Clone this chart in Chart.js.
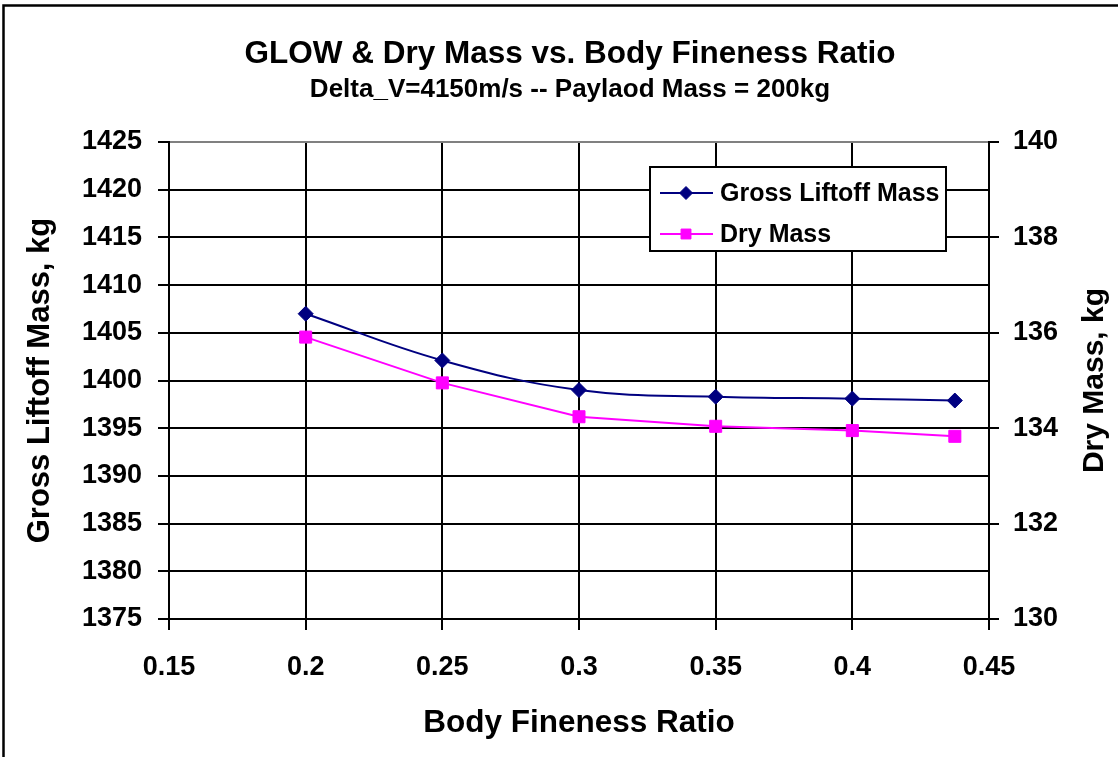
<!DOCTYPE html>
<html>
<head>
<meta charset="utf-8">
<title>GLOW &amp; Dry Mass vs. Body Fineness Ratio</title>
<script src="https://cdn.jsdelivr.net/npm/chart.js@4/dist/chart.umd.min.js"></script>
<style>
  html, body { margin: 0; padding: 0; background: #fff; }
  #wrap { position: relative; width: 1118px; height: 757px; }
</style>
</head>
<body>
<div id="wrap"><canvas id="chart"></canvas></div>
<script>
// Body fineness ratio of each design point
const fineness = [0.2, 0.25, 0.3, 0.35, 0.4, 0.4375];
// Gross liftoff mass (kg), left axis
const grossLiftoffMass = [1407.0, 1402.1, 1399.0, 1398.3, 1398.1, 1397.9];
// Dry mass (kg), right axis
const dryMass = [135.91, 134.95, 134.24, 134.04, 133.95, 133.83];

// Axis ticks
const xTickValues = [0.15, 0.2, 0.25, 0.3, 0.35, 0.4, 0.45];
const xTickLabels = ['0.15', '0.2', '0.25', '0.3', '0.35', '0.4', '0.45'];
const glowTickValues = [1375, 1380, 1385, 1390, 1395, 1400, 1405, 1410, 1415, 1420, 1425];
const dryTickValues = [130, 132, 134, 136, 138, 140];

const FONT = "'Liberation Sans', Arial, Helvetica, sans-serif";
Chart.defaults.font.family = FONT;
Chart.defaults.color = '#000';

// White page with the frame drawn along the left and top edges
const framePlugin = {
  id: 'frame',
  beforeDraw(chart) {
    const ctx = chart.ctx;
    ctx.save();
    ctx.fillStyle = '#fff';
    ctx.fillRect(0, 0, chart.width, chart.height);
    ctx.strokeStyle = '#000';
    ctx.lineWidth = 2.5;
    ctx.beginPath();
    ctx.moveTo(3.5, chart.height);
    ctx.lineTo(3.5, 5.5);
    ctx.lineTo(chart.width, 5.5);
    ctx.stroke();
    ctx.restore();
  }
};

// Right-hand axis title, reading bottom to top like the left one
const rightTitlePlugin = {
  id: 'rightTitle',
  afterDraw(chart) {
    const area = chart.chartArea;
    const ctx = chart.ctx;
    ctx.save();
    ctx.translate(1095, (area.top + area.bottom) / 2);
    ctx.rotate(-Math.PI / 2);
    ctx.fillStyle = '#000';
    ctx.font = 'bold 30px ' + FONT;
    ctx.textAlign = 'center';
    ctx.textBaseline = 'middle';
    ctx.fillText('Dry Mass, kg', 0, 0);
    ctx.restore();
  }
};

// Boxed legend sitting inside the plot area, upper right
const boxLegendPlugin = {
  id: 'boxLegend',
  afterDatasetsDraw(chart) {
    const ctx = chart.ctx;
    const box = { left: 650, top: 167, right: 946, bottom: 251 };
    ctx.save();
    ctx.fillStyle = '#fff';
    ctx.fillRect(box.left, box.top, box.right - box.left, box.bottom - box.top);
    ctx.strokeStyle = '#000';
    ctx.lineWidth = 2;
    ctx.strokeRect(box.left, box.top, box.right - box.left, box.bottom - box.top);
    const rows = [193, 234];
    const markerSize = [6.5, 7];
    chart.data.datasets.forEach((ds, i) => {
      const y = rows[i];
      ctx.strokeStyle = ds.borderColor;
      ctx.lineWidth = ds.borderWidth;
      ctx.beginPath();
      ctx.moveTo(660, y);
      ctx.lineTo(713, y);
      ctx.stroke();
      ctx.fillStyle = ds.backgroundColor;
      ctx.strokeStyle = ds.borderColor;
      ctx.lineWidth = ds.pointBorderWidth;
      Chart.helpers.drawPoint(ctx, {
        pointStyle: ds.pointStyle,
        radius: markerSize[i],
        rotation: 0,
        borderWidth: ds.pointBorderWidth
      }, 686, y);
      ctx.fillStyle = '#000';
      ctx.font = 'bold 25px ' + FONT;
      ctx.textAlign = 'left';
      ctx.textBaseline = 'middle';
      ctx.fillText(ds.label, 720, y + 1);
    });
    ctx.restore();
  }
};

const pairs = (xs, ys) => xs.map((x, i) => ({ x: x, y: ys[i] }));

new Chart(document.getElementById('chart'), {
  type: 'line',
  data: {
    datasets: [
      {
        label: 'Gross Liftoff Mass',
        data: pairs(fineness, grossLiftoffMass),
        yAxisID: 'y',
        borderColor: '#000080',
        backgroundColor: '#000080',
        borderWidth: 2,
        pointStyle: 'rectRot',
        pointRadius: 7.5,
        pointBorderWidth: 1,
        tension: 0.4,
        fill: false
      },
      {
        label: 'Dry Mass',
        data: pairs(fineness, dryMass),
        yAxisID: 'y1',
        borderColor: '#FF00FF',
        backgroundColor: '#FF00FF',
        borderWidth: 2,
        pointStyle: 'rect',
        pointRadius: 8.5,
        pointBorderWidth: 1,
        tension: 0,
        fill: false
      }
    ]
  },
  options: {
    responsive: true,
    maintainAspectRatio: false,
    animation: false,
    events: [],
    layout: { padding: { left: 22, right: 0, top: 0, bottom: 0 } },
    plugins: {
      legend: { display: false },
      tooltip: { enabled: false },
      title: {
        display: true,
        text: 'GLOW & Dry Mass vs. Body Fineness Ratio',
        color: '#000',
        font: { size: 31.5, weight: 'bold' },
        padding: { top: 35, bottom: 0 }
      },
      subtitle: {
        display: true,
        text: 'Delta_V=4150m/s -- Paylaod Mass = 200kg',
        color: '#000',
        font: { size: 26, weight: 'bold' },
        padding: { top: 1, bottom: 37 }
      }
    },
    scales: {
      x: {
        type: 'linear',
        position: 'bottom',
        min: 0.15,
        max: 0.45,
        afterBuildTicks: s => { s.ticks = xTickValues.map(v => ({ value: v })); },
        afterFit: s => { s.height = 138; },
        ticks: {
          callback: (v, i) => xTickLabels[i],
          color: '#000',
          font: { size: 27, weight: 'bold' },
          padding: 21,
          maxRotation: 0,
          autoSkip: false
        },
        grid: { color: '#000', lineWidth: 2, tickLength: 11, tickColor: '#000' },
        border: { color: '#000', width: 2 },
        title: {
          display: true,
          text: 'Body Fineness Ratio',
          color: '#000',
          font: { size: 31.5, weight: 'bold' },
          padding: { top: 0, bottom: 15 }
        }
      },
      y: {
        type: 'linear',
        position: 'left',
        min: 1375,
        max: 1425,
        afterBuildTicks: s => { s.ticks = glowTickValues.map(v => ({ value: v })); },
        afterFit: s => { s.width = 147; },
        ticks: {
          callback: v => String(v),
          color: '#000',
          font: { size: 27, weight: 'bold' },
          padding: 16,
          autoSkip: false
        },
        grid: {
          color: c => (c.tick && c.tick.value === 1425 ? '#808080' : '#000'),
          lineWidth: 2,
          tickLength: 11,
          tickColor: '#000'
        },
        border: { color: '#000', width: 2 },
        title: {
          display: true,
          text: 'Gross Liftoff Mass, kg',
          color: '#000',
          font: { size: 31, weight: 'bold' },
          padding: { top: 0, bottom: 0 }
        }
      },
      y1: {
        type: 'linear',
        position: 'right',
        min: 130,
        max: 140,
        afterBuildTicks: s => { s.ticks = dryTickValues.map(v => ({ value: v })); },
        afterFit: s => { s.width = 129; },
        ticks: {
          callback: v => String(v),
          color: '#000',
          font: { size: 27, weight: 'bold' },
          padding: 14,
          autoSkip: false
        },
        grid: { drawOnChartArea: false, color: '#000', lineWidth: 2, tickLength: 10, tickColor: '#000' },
        border: { color: '#000', width: 2 },
        title: { display: false }
      }
    }
  },
  plugins: [framePlugin, boxLegendPlugin, rightTitlePlugin]
});
</script>
</body>
</html>
